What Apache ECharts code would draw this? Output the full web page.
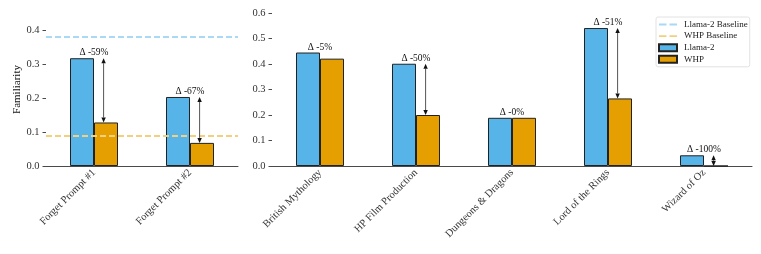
<!DOCTYPE html>
<html><head><meta charset="utf-8">
<script src="https://cdn.jsdelivr.net/npm/echarts@6/dist/echarts.min.js"></script>
<style>html,body{margin:0;padding:0;background:#fff}#c{width:761px;height:254px}</style>
</head><body><div id="c"></div>
<script>
const leftCats = ['Forget Prompt #1', 'Forget Prompt #2'];
const leftLlama = [0.317, 0.203];
const leftWhp = [0.128, 0.068];
const leftDelta = ['Δ -59%', 'Δ -67%'];
const rightCats = ['British Mythology', 'HP Film Production', 'Dungeons & Dragons', 'Lord of the Rings', 'Wizard of Oz'];
const rightLlama = [0.445, 0.401, 0.189, 0.541, 0.042];
const rightWhp = [0.421, 0.200, 0.189, 0.265, 0.0];
const rightDelta = ['Δ -5%', 'Δ -50%', 'Δ -0%', 'Δ -51%', 'Δ -100%'];
const showArrowLeft = [true, true];
const showArrowRight = [false, true, false, true, true];
const llamaBaseline = 0.383;
const whpBaseline = 0.088;
const leftTicks = [0, 0.1, 0.2, 0.3, 0.4];

const BLUE = '#56B4E9', ORANGE = '#E69F00';
const BLUE_L = '#A9D9F4', ORANGE_L = '#F3CF80';
const FONT = 'Liberation Serif';
const AX = '#4a4a4a', TXT = '#333';
const DASH_ICON = 'path://M0,0L0.01,0L0.01,0.01Z M0,2.6h7.5v1.8h-7.5z M10.5,2.6h7.5v1.8h-7.5z M17.99,6.99L18,6.99L18,7Z';

function arrowData(ll, wh, show) {
  return ll.map((v, i) => [i, v, wh[i], show[i] ? 1 : 0]);
}
function makeArrow(labels) {
  return function (params, api) {
    const idx = api.value(0), a = api.value(1), b = api.value(2);
    const show = api.value(3);
    const pA = api.coord([idx, a]);
    const pB = api.coord([idx, b]);
    const bw = api.size([1, 0])[0];
    const x = pA[0] + 0.1 * bw;
    const children = [{
      type: 'text',
      style: { text: labels[params.dataIndex], x: pA[0], y: pA[1] - 0.5, align: 'center', verticalAlign: 'bottom',
        font: '9.5px "' + FONT + '"', fill: '#111' }
    }];
    if (show) {
      const hw = 2.2, hl = 5;
      children.push({ type: 'line', shape: { x1: x, y1: pA[1] + hl, x2: x, y2: pB[1] - hl },
        style: { stroke: '#555', lineWidth: 1 } });
      children.push({ type: 'polygon', shape: { points: [[x, pA[1]], [x - hw, pA[1] + hl], [x + hw, pA[1] + hl]] },
        style: { fill: '#111' } });
      children.push({ type: 'polygon', shape: { points: [[x, pB[1]], [x - hw, pB[1] - hl], [x + hw, pB[1] - hl]] },
        style: { fill: '#111' } });
    }
    return { type: 'group', children };
  };
}

const axisLabelX = { rotate: 45, fontSize: 10.5, fontFamily: FONT, color: TXT, margin: 5, interval: 0 };
const axisLine = { lineStyle: { color: AX, width: 1 } };
const barStyle = (c) => ({ color: c, borderColor: '#222', borderWidth: 1 });

const chart = echarts.init(document.getElementById('c'), null, { renderer: 'canvas' });
chart.setOption({
  animation: false,
  textStyle: { fontFamily: FONT },
  grid: [
    { left: 46, right: 523, top: 13, bottom: 88 },
    { left: 272, right: 9, top: 13, bottom: 88 }
  ],
  xAxis: [
    { type: 'category', gridIndex: 0, data: leftCats, axisLabel: axisLabelX, axisLine,
      axisTick: { alignWithLabel: true, lineStyle: { color: AX }, length: 3.5 } },
    { type: 'category', gridIndex: 1, data: rightCats, axisLabel: axisLabelX, axisLine,
      axisTick: { alignWithLabel: true, lineStyle: { color: AX }, length: 3.5 } }
  ],
  yAxis: [
    { type: 'value', gridIndex: 0, min: 0, max: 0.45, splitLine: { show: false },
      name: 'Familiarity', nameLocation: 'middle', nameGap: 17,
      nameTextStyle: { fontSize: 11, fontFamily: FONT, color: '#111' },
      axisLabel: { fontSize: 10.5, fontFamily: FONT, color: TXT, customValues: leftTicks, formatter: v => v.toFixed(1), margin: 6.5 },
      axisLine, axisTick: { show: true, lineStyle: { color: AX }, length: 3.5, customValues: leftTicks } },
    { type: 'value', gridIndex: 1, min: 0, max: 0.6, interval: 0.1, splitLine: { show: false },
      axisLabel: { fontSize: 10.5, fontFamily: FONT, color: TXT, formatter: v => v.toFixed(1), margin: 6.5 },
      axisLine, axisTick: { show: true, lineStyle: { color: AX }, length: 3.5 } }
  ],
  legend: {
    orient: 'vertical', left: 656, top: 17,
    itemWidth: 18, itemHeight: 7, itemGap: 2.6,
    padding: [3, 2, 3, 2],
    borderColor: '#e2e2e2', borderWidth: 1, borderRadius: 2, backgroundColor: '#fff',
    textStyle: { fontSize: 9, fontFamily: FONT, color: '#222', padding: [0, 0, 0, 2] },
    data: [
      { name: 'Llama-2 Baseline', icon: DASH_ICON, itemStyle: { color: BLUE_L, borderWidth: 0 } },
      { name: 'WHP Baseline', icon: DASH_ICON, itemStyle: { color: ORANGE_L, borderWidth: 0 } },
      { name: 'Llama-2', icon: 'rect' },
      { name: 'WHP', icon: 'rect' }
    ]
  },
  series: [
    { name: 'Llama-2 Baseline', type: 'line', xAxisIndex: 0, yAxisIndex: 0, data: [], symbol: 'none',
      lineStyle: { color: BLUE_L, width: 2, type: [6, 3] }, itemStyle: { color: BLUE_L },
      markLine: { silent: true, symbol: 'none', label: { show: false },
        lineStyle: { color: BLUE_L, width: 2, type: [6, 3] }, data: [{ yAxis: llamaBaseline }] } },
    { name: 'WHP Baseline', type: 'line', xAxisIndex: 0, yAxisIndex: 0, data: [], symbol: 'none',
      lineStyle: { color: ORANGE_L, width: 2, type: [6, 3] }, itemStyle: { color: ORANGE_L },
      markLine: { silent: true, symbol: 'none', label: { show: false },
        lineStyle: { color: ORANGE_L, width: 2, type: [6, 3] }, data: [{ yAxis: whpBaseline }] } },
    { name: 'Llama-2', type: 'bar', xAxisIndex: 0, yAxisIndex: 0, data: leftLlama, barWidth: 24, barGap: '0%', itemStyle: barStyle(BLUE) },
    { name: 'WHP', type: 'bar', xAxisIndex: 0, yAxisIndex: 0, data: leftWhp, barWidth: 24, barGap: '0%', itemStyle: barStyle(ORANGE) },
    { name: 'Llama-2', type: 'bar', xAxisIndex: 1, yAxisIndex: 1, data: rightLlama, barWidth: 24, barGap: '0%', itemStyle: barStyle(BLUE) },
    { name: 'WHP', type: 'bar', xAxisIndex: 1, yAxisIndex: 1, data: rightWhp, barWidth: 24, barGap: '0%', itemStyle: barStyle(ORANGE) },
    { name: 'arrowsL', type: 'custom', xAxisIndex: 0, yAxisIndex: 0, renderItem: makeArrow(leftDelta),
      data: arrowData(leftLlama, leftWhp, showArrowLeft), z: 5 },
    { name: 'arrowsR', type: 'custom', xAxisIndex: 1, yAxisIndex: 1, renderItem: makeArrow(rightDelta),
      data: arrowData(rightLlama, rightWhp, showArrowRight), z: 5 }
  ]
});
</script></body></html>
